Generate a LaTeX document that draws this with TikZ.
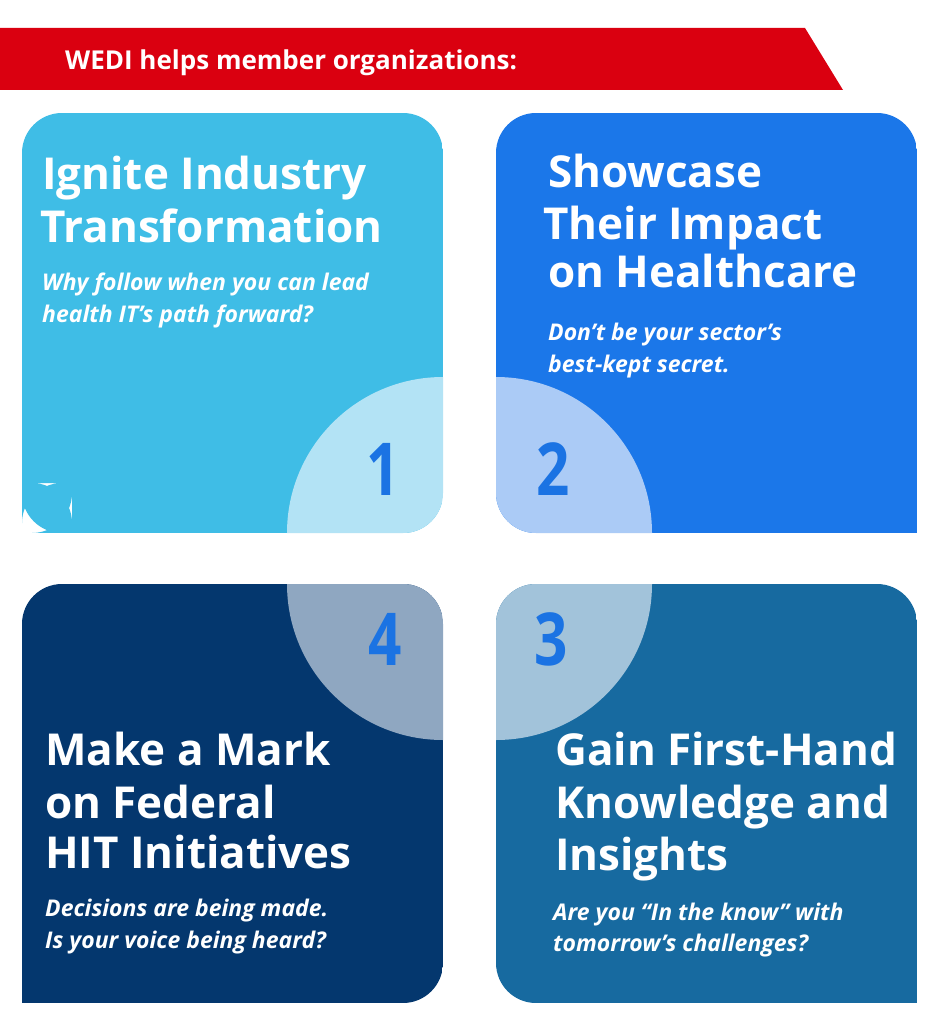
\documentclass[tikz,border=0pt]{standalone}
\usepackage{fontspec}
\setmainfont{Open Sans}
\begin{document}
\begin{tikzpicture}[x=1pt,y=-1pt,
  ttl/.style={anchor=base west,inner sep=0,text=white,font=\fontsize{44}{48}\bfseries},
  sub/.style={anchor=base west,inner sep=0,text=white,font=\fontsize{23}{26}\bfseries\itshape},
  num/.style={anchor=base,inner sep=0,text=numblue,font=\fontsize{73}{73}\bfseries,xscale=0.8}]
\definecolor{wred}{HTML}{DA0010}
\definecolor{c1}{HTML}{3FBDE6}\definecolor{l1}{HTML}{B3E3F5}
\definecolor{c2}{HTML}{1B77E9}\definecolor{l2}{HTML}{ABCBF6}
\definecolor{c3}{HTML}{176AA0}\definecolor{l3}{HTML}{A2C3DA}
\definecolor{c4}{HTML}{04376E}\definecolor{l4}{HTML}{8FA7C1}
\definecolor{numblue}{HTML}{1B73E3}
\useasboundingbox (0,0) rectangle (943,1024);
\fill[white] (0,0) rectangle (943,1024);
\fill[wred] (0,28) -- (805,28) -- (843,90) -- (0,90) -- cycle;
\node[anchor=base west,inner sep=0,text=white,font=\fontsize{26}{28}\bfseries] (ban) at (65,70) {WEDI helps member organizations:};
% box 1
\begin{scope}
\clip[rounded corners=40] (22,113) rectangle (443,533) (22,483) rectangle (72,533);
\fill[c1] (22,113) rectangle (443,533);
\fill[l1] (443,533) circle (156);
\end{scope}
% box 2
\begin{scope}
\clip[rounded corners=40] (496,113) rectangle (917,533);
\clip (496,113) rectangle (917,533);
\end{scope}
\begin{scope}
\clip (496,113) [rounded corners=40] rectangle (917,533) [sharp corners] (867,483) rectangle (917,533);
\fill[c2] (496,113) rectangle (917,533);
\fill[l2] (496,533) circle (156);
\end{scope}
% box 4
\begin{scope}
\clip[rounded corners=40] (22,584) rectangle (443,1003) [sharp corners] (22,953) rectangle (72,1003);
\fill[c4] (22,584) rectangle (443,1003);
\fill[l4] (443,584) circle (156);
\end{scope}
% box 3
\begin{scope}
\clip[rounded corners=40] (496,584) rectangle (917,1003) [sharp corners] (867,953) rectangle (917,1003);
\fill[c3] (496,584) rectangle (917,1003);
\fill[l3] (496,584) circle (156);
\end{scope}
\node[num] (n1) at (383,495) {1};
\node[num] (n2) at (553,495) {2};
\node[num] (n4) at (385,665) {4};
\node[num] (n3) at (551,665) {3};
% texts
\node[ttl] (t1a) at (42,190) {Ignite Industry};
\node[ttl] (t1b) at (40,243) {Transformation};
\node[sub] (s1a) at (42,290) {Why follow when you can lead};
\node[sub] (s1b) at (42,322) {health IT’s path forward?};
\node[ttl] (t2a) at (548,188) {Showcase};
\node[ttl] (t2b) at (543,240) {Their Impact};
\node[ttl] (t2c) at (548,287) {on Healthcare};
\node[sub] (s2a) at (548,340) {Don’t be your sector’s};
\node[sub] (s2b) at (548,372) {best-kept secret.};
\node[ttl] (t4a) at (45,765) {Make a Mark};
\node[ttl] (t4b) at (45,818) {on Federal};
\node[ttl] (t4c) at (45,868) {HIT Initiatives};
\node[sub] (s4a) at (45,916) {Decisions are being made.};
\node[sub] (s4b) at (45,948) {Is your voice being heard?};
\node[ttl] (t3a) at (555,765) {Gain First-Hand};
\node[ttl] (t3b) at (555,818) {Knowledge and};
\node[ttl] (t3c) at (555,870) {Insights};
\node[sub] (s3a) at (553,920) {Are you “In the know” with};
\node[sub] (s3b) at (553,951) {tomorrow’s challenges?};
\end{tikzpicture}
\end{document}
